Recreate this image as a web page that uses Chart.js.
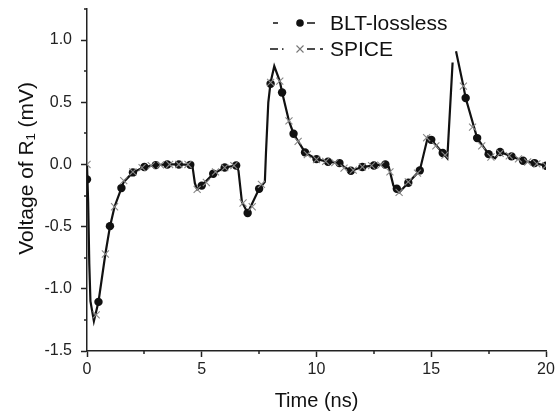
<!DOCTYPE html>
<html>
<head>
<meta charset="utf-8">
<script src="https://cdn.jsdelivr.net/npm/chart.js@4"></script>
<style>
  html, body { margin: 0; padding: 0; background: #fff; }
</style>
</head>
<body>
<canvas id="chart" width="555" height="413"></canvas>
<script>
// solid response curve (ns, mV), null = gap in the trace near 16 ns
const curveTime = [0, 0.05, 0.1, 0.15, 0.3, 0.5, 0.8, 1.0, 1.2, 1.5, 1.6, 2.0, 2.5, 3.0, 3.5, 4.0, 4.5, 4.6, 4.7, 4.8,
  5.0, 5.5, 6.0, 6.5, 6.6, 6.75, 7.0, 7.5, 7.75, 7.8, 7.9, 8.0, 8.16, 8.4, 8.5, 8.8, 9.0, 9.5, 10.0, 10.5,
  11.0, 11.2, 11.5, 12.0, 12.5, 13.0, 13.15, 13.35, 13.5, 13.6, 14.0, 14.5, 14.85, 15.0, 15.5, 15.7, 15.93, 16.0,
  16.08, 16.4, 16.5, 17.0, 17.5, 17.78, 18.0, 18.5, 19.0, 19.5, 20.0];
const curveVolt = [0, -0.3, -0.8, -1.1, -1.26, -1.105, -0.72, -0.5, -0.34, -0.19, -0.14, -0.064, -0.02, -0.005, 0, 0, -0.003, -0.02, -0.15, -0.2,
  -0.17, -0.075, -0.024, -0.008, -0.05, -0.3, -0.39, -0.196, -0.14, 0.1, 0.5, 0.66, 0.79, 0.67, 0.58, 0.35, 0.247, 0.097, 0.043, 0.022,
  0.011, -0.02, -0.051, -0.021, -0.008, 0, -0.02, -0.17, -0.195, -0.225, -0.147, -0.048, 0.22, 0.198, 0.092, 0.05, 0.82, null,
  0.91, 0.63, 0.534, 0.212, 0.083, 0.05, 0.1, 0.065, 0.03, 0.011, -0.01];

// BLT-lossless markers
const bltTime = [0, 0.5, 1, 1.5, 2, 2.5, 3, 3.5, 4, 4.5, 5, 5.5, 6, 6.5, 7, 7.5, 8, 8.5, 9, 9.5,
  10, 10.5, 11, 11.5, 12, 12.5, 13, 13.5, 14, 14.5, 15, 15.5, 16.5, 17, 17.5, 18, 18.5, 19, 19.5, 20];
const bltVolt = [-0.12, -1.105, -0.496, -0.19, -0.064, -0.02, -0.005, 0, 0, -0.003, -0.17, -0.075, -0.024, -0.008, -0.39, -0.196, 0.649, 0.579, 0.247, 0.097,
  0.043, 0.022, 0.011, -0.051, -0.021, -0.008, 0, -0.195, -0.147, -0.048, 0.198, 0.092, 0.534, 0.212, 0.083, 0.1, 0.065, 0.03, 0.011, -0.01];

// SPICE markers
const spiceTime = [0, 0.4, 0.8, 1.2, 1.6, 2.0, 2.4, 2.8, 3.2, 3.6, 4.0, 4.4, 4.8, 5.2, 5.6, 6.0, 6.4, 6.8, 7.2, 7.6,
  8.0, 8.4, 8.8, 9.2, 9.6, 10.0, 10.4, 10.8, 11.2, 11.6, 12.0, 12.4, 12.8, 13.2, 13.6, 14.0, 14.4, 14.8, 15.2, 15.6,
  16.4, 16.8, 17.2, 17.6, 18.0, 18.4, 18.8, 19.2, 19.6, 20.0];
const spiceVolt = [0, -1.21, -0.72, -0.34, -0.13, -0.06, -0.025, -0.01, -0.003, 0, 0, 0, -0.2, -0.145, -0.06, -0.025, -0.01, -0.31, -0.34, -0.16,
  0.66, 0.67, 0.35, 0.185, 0.08, 0.04, 0.025, 0.015, -0.03, -0.045, -0.02, -0.01, -0.005, -0.06, -0.225, -0.14, -0.07, 0.215, 0.15, 0.075,
  0.63, 0.3, 0.15, 0.06, 0.09, 0.07, 0.045, 0.02, 0.005, -0.01];

const xMajor = [0, 5, 10, 15, 20];
const xMinor = [2.5, 7.5, 12.5, 17.5];
const yMajor = [-1.5, -1.0, -0.5, 0.0, 0.5, 1.0];
const yMinor = [-1.25, -0.75, -0.25, 0.25, 0.75, 1.25];

const seriesNames = ["BLT-lossless", "SPICE"];

const axisColor = "#222";
const fontFamily = "'Liberation Sans', Arial, sans-serif";

function pts(xs, ys) {
  return xs.map((x, i) => ({ x: x, y: ys[i] }));
}

const minorTicks = {
  id: "minorTicks",
  afterDraw(chart) {
    const ctx = chart.ctx;
    const xs = chart.scales.x, ys = chart.scales.y;
    ctx.save();
    ctx.strokeStyle = axisColor;
    ctx.lineWidth = 1.5;
    xMinor.forEach((v) => {
      const px = Math.round(xs.getPixelForValue(v));
      ctx.beginPath();
      ctx.moveTo(px, xs.top);
      ctx.lineTo(px, xs.top + 3);
      ctx.stroke();
    });
    yMinor.forEach((v) => {
      const py = Math.round(ys.getPixelForValue(v));
      ctx.beginPath();
      ctx.moveTo(ys.right, py);
      ctx.lineTo(ys.right - 3, py);
      ctx.stroke();
    });
    ctx.restore();
  },
};

const legendBox = {
  id: "legendBox",
  afterDraw(chart) {
    const ctx = chart.ctx;
    ctx.save();
    ctx.strokeStyle = "#111";
    ctx.lineWidth = 1.5;
    // BLT-lossless: dash, dot, dash
    let y = 23;
    ctx.beginPath();
    ctx.moveTo(273, y); ctx.lineTo(278, y);
    ctx.moveTo(307, y); ctx.lineTo(315, y);
    ctx.stroke();
    ctx.fillStyle = "#111";
    ctx.beginPath();
    ctx.arc(300, y, 3.8, 0, Math.PI * 2);
    ctx.fill();
    // SPICE: dash-dot with cross
    y = 49;
    ctx.beginPath();
    ctx.moveTo(270, y); ctx.lineTo(278, y);
    ctx.moveTo(307, y); ctx.lineTo(315, y);
    ctx.moveTo(320, y); ctx.lineTo(323, y);
    ctx.stroke();
    ctx.fillRect(282, y - 0.7, 1.5, 1.5);
    ctx.strokeStyle = "#777";
    ctx.lineWidth = 1.1;
    ctx.beginPath();
    ctx.moveTo(296.5, y - 3.5); ctx.lineTo(303.5, y + 3.5);
    ctx.moveTo(296.5, y + 3.5); ctx.lineTo(303.5, y - 3.5);
    ctx.stroke();
    ctx.fillStyle = "#111";
    ctx.font = "21px " + fontFamily;
    ctx.textBaseline = "middle";
    ctx.fillText(seriesNames[0], 330, 24);
    ctx.fillText(seriesNames[1], 330, 50);
    ctx.restore();
  },
};

new Chart(document.getElementById("chart"), {
  type: "line",
  data: {
    datasets: [
      {
        label: "curve",
        data: pts(curveTime, curveVolt),
        borderColor: "#111",
        borderWidth: 2.2,
        pointRadius: 0,
        tension: 0,
        spanGaps: false,
        order: 3,
      },
      {
        label: seriesNames[0],
        data: pts(bltTime, bltVolt),
        showLine: false,
        pointStyle: "circle",
        pointRadius: 4.2,
        backgroundColor: "#111",
        borderColor: "#111",
        borderWidth: 0,
        order: 2,
      },
      {
        label: seriesNames[1],
        data: pts(spiceTime, spiceVolt),
        showLine: false,
        pointStyle: "crossRot",
        pointRadius: 5,
        borderColor: "#888",
        borderWidth: 1.1,
        order: 1,
      },
    ],
  },
  options: {
    responsive: false,
    animation: false,
    layout: { padding: { top: 9, right: 9, left: 0, bottom: 0 } },
    plugins: {
      legend: { display: false },
      tooltip: { enabled: false },
    },
    scales: {
      x: {
        type: "linear",
        min: 0,
        max: 20,
        afterBuildTicks: (s) => { s.ticks = xMajor.map((v) => ({ value: v })); },
        afterFit: (s) => { s.height = 62; s.paddingLeft = 0; s.paddingRight = 0; },
        border: { color: axisColor, width: 1.5 },
        grid: { drawOnChartArea: false, tickLength: 6, tickColor: axisColor, tickWidth: 1.5 },
        ticks: {
          color: axisColor,
          font: { family: fontFamily, size: 16 },
          padding: 3,
          maxRotation: 0,
          callback: (v) => String(v),
        },
        title: {
          display: true,
          text: "Time (ns)",
          color: "#111",
          font: { family: fontFamily, size: 20 },
          padding: { top: 0, bottom: 0 },
        },
      },
      y: {
        type: "linear",
        min: -1.5,
        max: 1.25,
        afterBuildTicks: (s) => { s.ticks = yMajor.map((v) => ({ value: v })); },
        afterFit: (s) => { s.width = 87; s.paddingTop = 0; s.paddingBottom = 0; },
        border: { color: axisColor, width: 1.5 },
        grid: { drawOnChartArea: false, tickLength: 6, tickColor: axisColor, tickWidth: 1.5 },
        ticks: {
          color: axisColor,
          font: { family: fontFamily, size: 16 },
          padding: 9,
          callback: (v) => Number(v).toFixed(1),
        },
        title: {
          display: true,
          // leading spaces nudge the rotated title up a little, as in the original
          text: "    Voltage of R\u2081 (mV)",
          color: "#111",
          font: { family: fontFamily, size: 21 },
          padding: { top: 15, bottom: 0 },
        },
      },
    },
  },
  plugins: [minorTicks, legendBox],
});
</script>
</body>
</html>
